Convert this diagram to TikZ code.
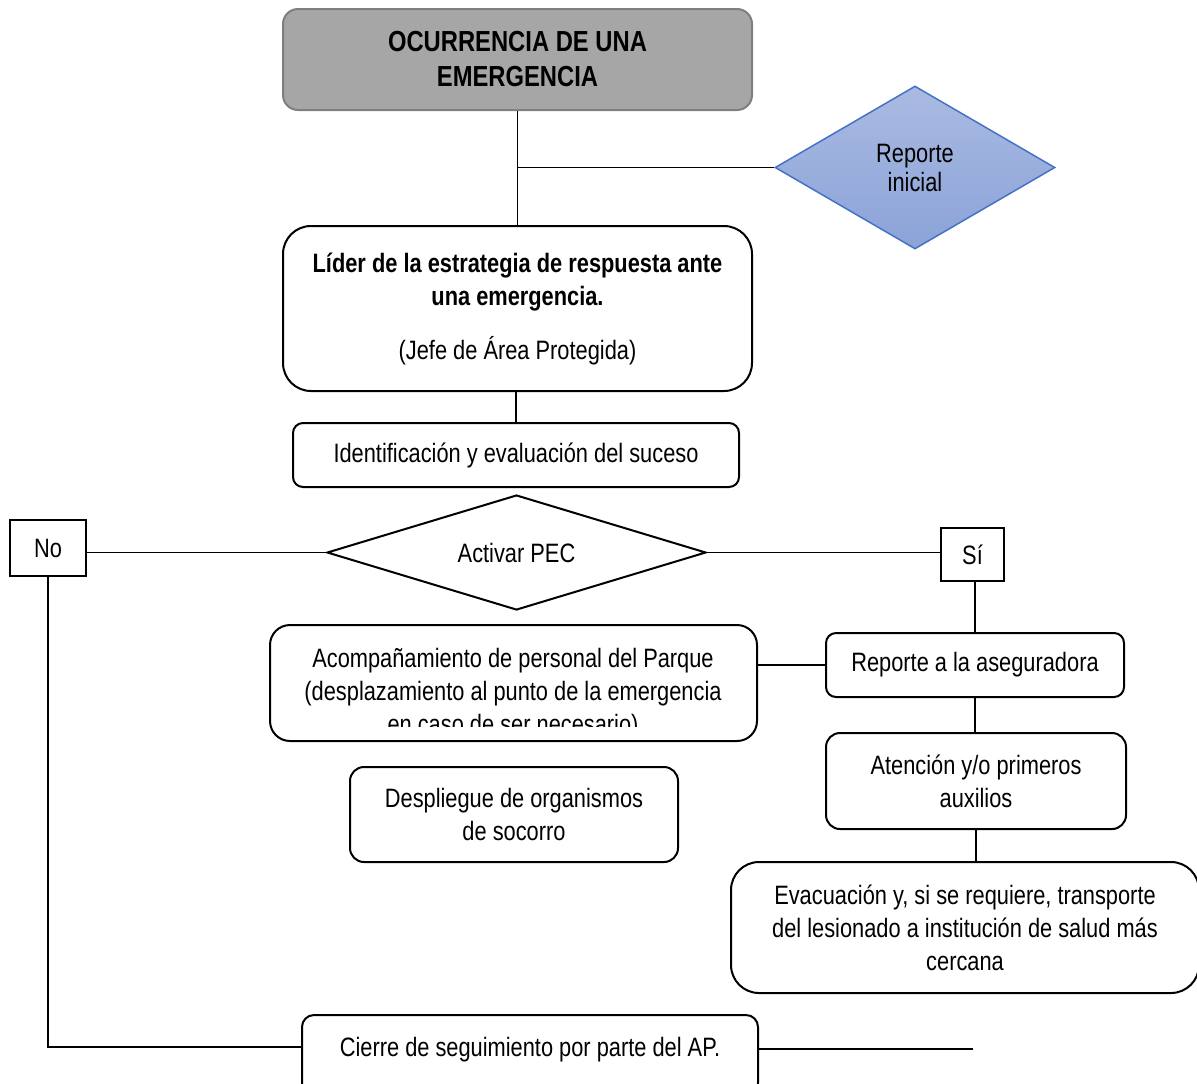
\documentclass[tikz,border=0pt]{standalone}
\usepackage{fontspec}
\setmainfont{Liberation Sans}[FakeStretch=0.82]
\usetikzlibrary{shapes.geometric,positioning}

\definecolor{topgray}{HTML}{A6A6A6}
\definecolor{topline}{HTML}{7F7F7F}
\definecolor{repline}{HTML}{4472C4}
\definecolor{reptop}{HTML}{AABAE2}
\definecolor{repbot}{HTML}{8BA3D8}

\begin{document}
\begin{tikzpicture}[x=0.5pt,y=-0.5pt,
    every node/.style={font=\fontsize{13.3}{16.5}\selectfont, align=center, inner sep=0pt},
    box/.style={draw, line width=1pt, rounded corners=#1},
    box/.default=6pt,
    plain/.style={draw, line width=1pt},
    decision/.style={diamond, draw, line width=1pt},
    link/.style={draw, line width=0.75pt}]
    \useasboundingbox (0,0) rectangle (1197,1083);

    \node[box=7.5pt, fill=topgray, draw=topline, minimum width=234.5pt, minimum height=50.5pt,
          font=\fontsize{14.5}{17.5}\selectfont\bfseries] (top) at (517.5,59.5)
        {OCURRENCIA DE UNA\\EMERGENCIA};
    \node[diamond, draw=repline, line width=0.75pt, top color=reptop, bottom color=repbot, aspect=1.7,
          minimum width=140pt, minimum height=81.5pt, font=\fontsize{13.3}{14.5}\selectfont] (reporte) at (915,167.5) {Reporte\\inicial};
    \node[box=14pt, minimum width=234.5pt, minimum height=82.5pt] (lider) at (517.5,308.5)
        {\textbf{Líder de la estrategia de respuesta ante}\\\textbf{una emergencia.}\\[10.5pt](Jefe de Área Protegida)};
    \node[box=5pt, minimum width=223pt, minimum height=32pt] (ident) at (516,455) {Identificación y evaluación del suceso};
    \node[decision, aspect=3.3, minimum width=189.5pt, minimum height=57.5pt] (activar) at (516.5,552.5) {Activar PEC};
    \node[plain, minimum width=38pt, minimum height=28pt] (no) at (48,548) {No};
    \node[plain, minimum width=31.5pt, minimum height=26.5pt] (si) at (972.5,554.5) {Sí};
    \node[box=5pt, minimum width=149pt, minimum height=32pt] (aseg) at (975,665) {Reporte a la aseguradora};
    \node[box=10pt, minimum width=243.5pt, minimum height=58pt] (acomp) at (513.5,683) {};
    \begin{scope}
        \clip (270,625) rectangle (757,726);
        \node (acomptxt) at (513,694) {Acompañamiento de personal del Parque\\(desplazamiento al punto de la emergencia\\en caso de ser necesario)};
    \end{scope}
    \node[box=7pt, minimum width=150pt, minimum height=48pt] (aten) at (976,781) {Atención y/o primeros\\auxilios};
    \node[box=7pt, minimum width=164pt, minimum height=47.5pt] (despl) at (514,814.5) {Despliegue de organismos\\de socorro};
    \node[box=14pt, minimum width=234pt, minimum height=65.5pt] (evac) at (965,927.5)
        {Evacuación y, si se requiere, transporte\\del lesionado a institución de salud más\\cercana};
    \node[box=6pt, minimum width=228pt, minimum height=40pt] (cierre) at (530,1055)
        {\raisebox{2.5pt}[\height][\depth]{Cierre de seguimiento por parte del AP.}};
    \coordinate (cierrein) at ([yshift=4pt]cierre.west);
    \coordinate (cierreout) at ([yshift=3pt]cierre.east);
    \coordinate (fin) at (973,1049);

    \path[link]
        (top) -- (top.south |- lider.north)
        (top.south |- reporte.west) -- (reporte.west)
        (ident.north) -- (ident.north |- lider.south)
        (activar.west) -- (activar.west -| no.east)
        (activar.east) -- (activar.east -| si.west)
        (aseg.north |- si.south) -- (aseg.north)
        (aseg.west) -- (aseg.west -| acomp.east)
        (aseg.south) -- (aseg.south |- aten.north)
        (aten.south) -- (aten.south |- evac.north)
        (no.south) -- (no.south |- cierrein) -- (cierrein)
        (cierreout) -- (fin);
\end{tikzpicture}
\end{document}
